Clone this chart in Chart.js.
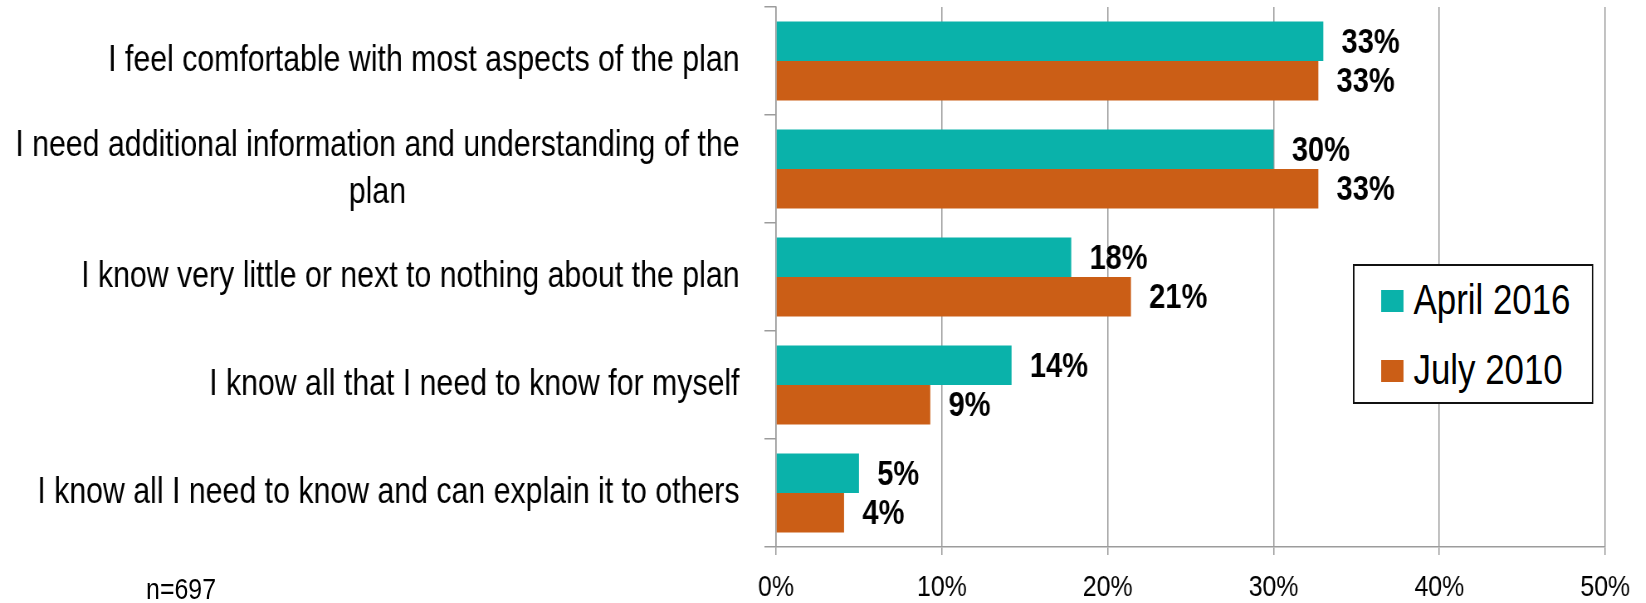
<!DOCTYPE html>
<html>
<head>
<meta charset="utf-8">
<script src="https://cdn.jsdelivr.net/npm/chart.js@4.4.1/dist/chart.umd.min.js"></script>
<style>
  html, body { margin: 0; padding: 0; background: #fff; overflow: hidden; }
  /* no narrow font installed: draw wide and squeeze horizontally (Arial Narrow look) */
  #wrap { position: relative; width: 1983px; height: 603px; transform: scaleX(0.83); transform-origin: 0 0; }
  #legend {
    position: absolute; left: 1630px; top: 264px; width: 286px; height: 136px;
    border: 2px solid #111; background: #fff;
    font-family: 'Liberation Sans', Arial, sans-serif;
    font-size: 42px; color: #000;
  }
  .item { position: absolute; left: 32px; height: 44px; line-height: 44px; white-space: nowrap; }
  .item span.sw { display: inline-block; width: 27px; height: 22px; margin-right: 12px; vertical-align: middle; position: relative; top: -2px; }
  #note {
    position: absolute; left: 176px; top: 574px; line-height: 1;
    font-family: 'Liberation Sans', Arial, sans-serif;
    font-size: 30px; color: #000;
  }
</style>
</head>
<body>
<div id="wrap">
  <canvas id="chart" width="1983" height="603"></canvas>
  <div id="legend"></div>
  <div id="note">n=697</div>
</div>
<script>
// survey answers, top to bottom
const categories = [
    'I feel comfortable with most aspects of the plan',
    ['I need additional information and understanding of the', 'plan'],
    'I know very little or next to nothing about the plan',
    'I know all that I need to know for myself',
    'I know all I need to know and can explain it to others'
];
const seriesNames = ['April 2016', 'July 2010'];
const seriesColors = ['#0AB2AA', '#CB5E16'];
const april2016 = [33.0, 30.0, 17.8, 14.2, 5.0];
const july2010 = [32.7, 32.7, 21.4, 9.3, 4.1];
const xTickLabels = ['0%', '10%', '20%', '30%', '40%', '50%'];

const FONT = "'Liberation Sans', Arial, sans-serif";
const gridGray = '#9c9c9c';
const Y_TICK_LEN = 14, Y_LABEL_PAD = 30, LINE_H = 47;

// bold value labels to the right of each bar
const valueLabels = {
    id: 'valueLabels',
    afterDatasetsDraw(chart) {
        const ctx = chart.ctx;
        ctx.save();
        ctx.font = 'bold 35px ' + FONT;
        ctx.fillStyle = '#000';
        ctx.textAlign = 'left';
        ctx.textBaseline = 'middle';
        chart.data.datasets.forEach((ds, i) => {
            chart.getDatasetMeta(i).data.forEach((bar, j) => {
                ctx.fillText(Math.round(ds.data[j]) + '%', bar.x + 22, bar.y + 2);
            });
        });
        ctx.restore();
    }
};

// category labels: block right aligned, wrapped lines centred inside the block
const categoryLabels = {
    id: 'categoryLabels',
    afterDraw(chart) {
        const s = chart.scales.y;
        const ctx = chart.ctx;
        ctx.save();
        ctx.font = '36.5px ' + FONT;
        ctx.fillStyle = '#000';
        ctx.textAlign = 'center';
        ctx.textBaseline = 'middle';
        const right = s.right - Y_TICK_LEN - Y_LABEL_PAD;
        chart.data.labels.forEach((lab, i) => {
            const lines = Array.isArray(lab) ? lab : [lab];
            const w = Math.max(...lines.map(l => ctx.measureText(l).width));
            const y0 = s.getPixelForTick(i) - (lines.length - 1) * LINE_H / 2;
            lines.forEach((l, k) => ctx.fillText(l, right - w / 2, y0 + k * LINE_H));
        });
        ctx.restore();
    }
};

const ctx = document.getElementById('chart').getContext('2d');
new Chart(ctx, {
    type: 'bar',
    data: {
        labels: categories,
        datasets: [
            { label: seriesNames[0], data: april2016, backgroundColor: seriesColors[0] },
            { label: seriesNames[1], data: july2010, backgroundColor: seriesColors[1] }
        ]
    },
    options: {
        indexAxis: 'y',
        responsive: false,
        animation: false,
        layout: { padding: { top: 7, right: 49, left: 0, bottom: 0 } },
        datasets: { bar: { categoryPercentage: 0.73, barPercentage: 1.0 } },
        scales: {
            x: {
                min: 0, max: 50,
                ticks: {
                    stepSize: 10,
                    color: '#000',
                    font: { family: FONT, size: 30 },
                    padding: 15,
                    callback: (v, i) => xTickLabels[i]
                },
                grid: { color: gridGray, lineWidth: 1.5, tickLength: 8 },
                border: { color: gridGray, width: 1.5 },
                afterFit: (s) => { s.height = 56; s.paddingLeft = 0; s.paddingRight = 0; }
            },
            y: {
                ticks: { display: false },
                grid: { drawOnChartArea: false, color: gridGray, lineWidth: 1.5, tickLength: Y_TICK_LEN, offset: true },
                border: { color: gridGray, width: 1.5 },
                afterFit: (s) => { s.width = 935; s.paddingTop = 0; s.paddingBottom = 0; }
            }
        },
        plugins: {
            legend: { display: false },
            tooltip: { enabled: false }
        }
    },
    plugins: [valueLabels, categoryLabels]
});

// legend box built from the series arrays
const legendEl = document.getElementById('legend');
seriesNames.forEach((name, i) => {
    const item = document.createElement('div');
    item.className = 'item';
    item.style.top = (12 + i * 70) + 'px';
    item.innerHTML = '<span class="sw" style="background:' + seriesColors[i] + '"></span>' + name;
    legendEl.appendChild(item);
});
</script>
</body>
</html>
